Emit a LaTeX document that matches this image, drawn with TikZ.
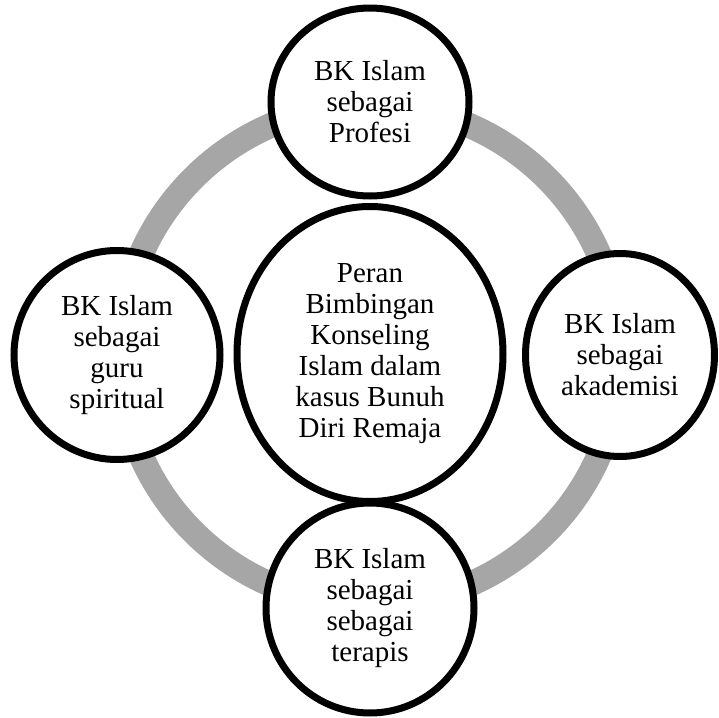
\documentclass[tikz,border=0pt]{standalone}
\usepackage{fontspec}
\setmainfont{Liberation Serif}
\usetikzlibrary{shapes.geometric}

\definecolor{ringgray}{HTML}{A6A6A6}

\tikzset{
    role/.style={ellipse, draw=black, line width=3.5pt, fill=white, inner sep=0pt,
                 align=center, font=\fontsize{14.5}{15.5}\selectfont},
    ring/.style={draw=ringgray, line width=12.5pt}
}

\begin{document}
\begin{tikzpicture}[x=0.5pt, y=-0.5pt]
    \useasboundingbox (0,0) rectangle (719,718);

    % Gray ring behind the circles
    \draw[ring] (370,355) circle[radius=125pt];

    % Surrounding roles
    \node[role, minimum width=99pt, minimum height=94pt] (profesi) at (370,102)
        {BK Islam\\sebagai\\Profesi};
    \node[role, minimum width=103pt, minimum height=104.5pt] (guru) at (117,355)
        {BK Islam\\sebagai\\guru\\spiritual};
    \node[role, minimum width=94.5pt, minimum height=101.5pt] (akademisi) at (620,355)
        {BK Islam\\sebagai\\akademisi};
    \node[role, minimum width=104pt, minimum height=105pt] (terapis) at (370,608)
        {BK Islam\\sebagai\\sebagai\\terapis};

    % Center node
    \node[role, minimum width=133pt, minimum height=147.5pt] (peran) at (370,354)
        {Peran\\Bimbingan\\Konseling\\Islam dalam\\kasus Bunuh\\Diri Remaja};
\end{tikzpicture}
\end{document}
